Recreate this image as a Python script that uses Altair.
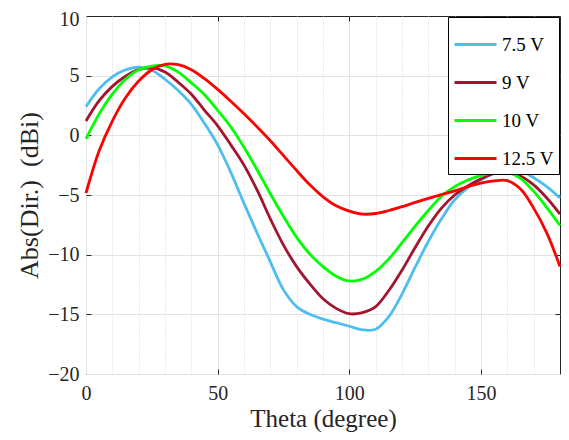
import altair as alt
import pandas as pd

theta = list(range(0, 181, 5))

v75 = [2.4, 3.9, 4.9, 5.5, 5.72, 5.45, 4.7, 3.75, 2.6, 1.0, -0.8, -3.1, -5.7, -8.2,
       -10.6, -12.95, -14.35, -15.0, -15.4, -15.7, -16.0, -16.3, -16.25, -15.2, -13.3,
       -11.05, -8.9, -7.0, -5.4, -4.4, -3.75, -3.15, -2.85, -2.95, -3.55, -4.3, -5.25]
v9 = [1.2, 2.9, 4.1, 4.95, 5.5, 5.68, 5.3, 4.45, 3.45, 2.1, 0.8, -0.8, -2.5, -4.6,
      -7.0, -9.2, -11.0, -12.45, -13.7, -14.5, -14.95, -14.85, -14.35, -13.0, -11.3,
      -9.4, -7.6, -6.1, -5.0, -4.25, -3.65, -3.2, -3.05, -3.4, -4.15, -5.25, -6.6]
v10 = [-0.3, 1.8, 3.45, 4.7, 5.5, 5.8, 5.82, 5.3, 4.4, 3.4, 2.1, 0.7, -1.0, -2.9,
       -4.9, -6.8, -8.55, -9.95, -11.0, -11.8, -12.2, -12.05, -11.4, -10.35, -9.0,
       -7.6, -6.3, -5.1, -4.3, -3.75, -3.35, -3.15, -3.1, -3.6, -4.7, -6.05, -7.55]
v125 = [-4.85, -1.3, 1.2, 3.15, 4.55, 5.5, 5.95, 5.92, 5.5, 4.75, 3.85, 2.85, 1.8, 0.7,
        -0.45, -1.7, -2.95, -4.15, -5.15, -5.9, -6.35, -6.6, -6.55, -6.3, -5.98, -5.62,
        -5.28, -4.96, -4.65, -4.3, -4.0, -3.82, -3.8, -4.5, -6.1, -8.2, -11.0]

names = ["7.5 V", "9 V", "10 V", "12.5 V"]
colors = ["#4DBEEE", "#A2142F", "#00FF00", "#FF0000"]
series = [v75, v9, v10, v125]

x_major = [0, 50, 100, 150]
x_minor = [10, 20, 30, 40, 60, 70, 80, 90, 110, 120, 130, 140, 160, 170]
y_major = [-20, -15, -10, -5, 0, 5, 10]

rows = []
for n, vals in zip(names, series):
    for t, v in zip(theta, vals):
        rows.append({"theta": t, "value": v, "series": n})
df = pd.DataFrame(rows)

FONT = "Liberation Serif"
xs = alt.Scale(domain=[0, 180], nice=False, zero=False)
ys = alt.Scale(domain=[-20, 10], nice=False, zero=False)
tick_col = "#262626"

base = alt.Chart(df)

lines = base.mark_line(strokeWidth=2.8, interpolate="catmull-rom").encode(
    x=alt.X("theta:Q", scale=xs,
            axis=alt.Axis(orient="bottom", values=x_major, title="Theta (degree)",
                          ticks=False, domain=False, grid=True, gridColor="#e3e3e3",
                          gridWidth=1, labelFont=FONT, labelFontSize=20,
                          labelColor="#262626", labelPadding=9, labelFlush=False,
                          titleFont=FONT, titleFontSize=25, titleFontWeight="normal",
                          titleColor="#262626", titleBaseline="alphabetic", titleY=52.5,
                          format="d")),
    y=alt.Y("value:Q", scale=ys,
            axis=alt.Axis(orient="left", values=y_major[:-1], title="Abs(Dir.)\u00a0 (dBi)",
                          ticks=False, domain=False, grid=True, gridColor="#e3e3e3",
                          gridWidth=1, labelFont=FONT, labelFontSize=20,
                          labelColor="#262626", labelPadding=7, labelFlush=False,
                          titleFont=FONT, titleFontSize=26, titleFontWeight="normal",
                          titleColor="#262626", titlePadding=5, format="d")),
    color=alt.Color("series:N", sort=names,
                    scale=alt.Scale(domain=names, range=colors),
                    legend=alt.Legend(title=None, orient="top-right", offset=1,
                                      strokeColor="black", fillColor="white",
                                      padding=5, symbolType="stroke", symbolSize=1764,
                                      symbolStrokeWidth=3, labelFont=FONT,
                                      labelFontSize=19, labelColor="black",
                                      labelOffset=4, rowPadding=5, cornerRadius=0)),
)

minor = base.mark_line(strokeOpacity=0).encode(
    x=alt.X("theta:Q", scale=xs,
            axis=alt.Axis(orient="bottom", values=x_minor, title=None, labels=False,
                          ticks=False, domain=False, grid=True, gridColor="#d4d4d4",
                          gridDash=[1, 2], gridWidth=1)),
    y=alt.Y("value:Q", scale=ys,
            axis=alt.Axis(orient="left", values=y_major[-1:], title=None, ticks=False,
                          domain=False, grid=False, labelFont=FONT, labelFontSize=20,
                          labelColor="#262626", labelPadding=7, labelFlush=False,
                          labelOffset=3, format="d")),
    detail="series:N",
)

ticks_bl = base.mark_line(strokeOpacity=0).encode(
    x=alt.X("theta:Q", scale=xs,
            axis=alt.Axis(orient="bottom", offset=-5, values=[50, 100, 150], title=None,
                          labels=False, ticks=True, tickSize=5, tickColor=tick_col,
                          domain=False, grid=False)),
    y=alt.Y("value:Q", scale=ys,
            axis=alt.Axis(orient="left", offset=-5, values=[-15, -10, -5, 0, 5],
                          title=None, labels=False, ticks=True, tickSize=5,
                          tickColor=tick_col, domain=False, grid=False)),
    detail="series:N",
)

ticks_tr = base.mark_line(strokeOpacity=0).encode(
    x=alt.X("theta:Q", scale=xs,
            axis=alt.Axis(orient="top", offset=-5, values=[50, 100, 150], title=None,
                          labels=False, ticks=True, tickSize=5, tickColor=tick_col,
                          domain=False, grid=False)),
    y=alt.Y("value:Q", scale=ys,
            axis=alt.Axis(orient="right", offset=-5, values=[-15, -10, -5, 0, 5],
                          title=None, labels=False, ticks=True, tickSize=5,
                          tickColor=tick_col, domain=False, grid=False)),
    detail="series:N",
)

chart = alt.layer(minor, ticks_bl, ticks_tr, lines).resolve_axis(
    x="independent", y="independent"
).properties(
    width=474, height=358,
    autosize=alt.AutoSizeParams(type="none"),
    padding={"left": 78, "top": 8, "right": 1, "bottom": 58},
    background="white",
).configure(
    font=FONT
).configure_axis(
    labelFont=FONT, titleFont=FONT
).configure_legend(
    labelFont=FONT
).configure_view(stroke=tick_col, strokeWidth=1)

chart.save("out.html", embed_options={"renderer": "svg", "actions": False})
